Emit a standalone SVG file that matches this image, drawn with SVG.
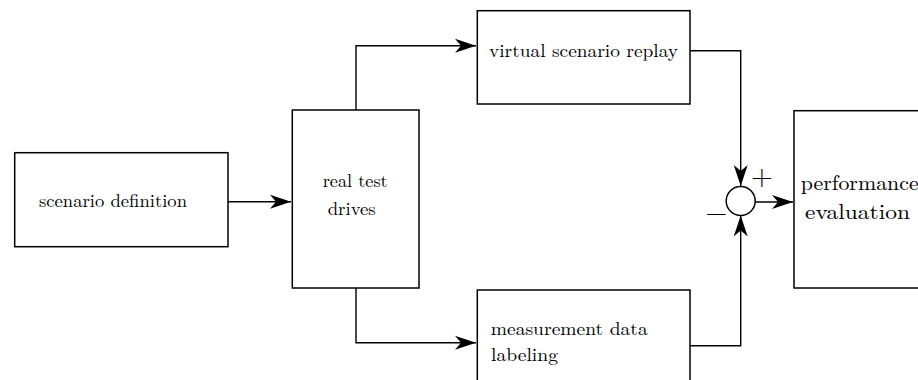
<svg xmlns="http://www.w3.org/2000/svg" width="918" height="380" viewBox="0 0 918 380">
<style>
.box{fill:#fff;stroke:#000;stroke-width:1.5}
.ln{fill:none;stroke:#000;stroke-width:1.4}
.t{font-size:18.5px;fill:#000}
.tb{font-size:21px;fill:#000}
.sg{font-size:28px;fill:#000}
</style>
<defs>
<marker id="ar" markerUnits="userSpaceOnUse" markerWidth="24" markerHeight="16" viewBox="-22 -8 24 16" refX="0" refY="0" orient="auto">
<path d="M0,0 L-21,-7 L-15,0 L-21,7 Z" fill="#000"/>
</marker>
</defs>
<rect width="918" height="380" fill="#fff"/>
<g id="connectors">
<path class="ln" d="M228,201.7 H291" marker-end="url(#ar)"/>
<path class="ln" d="M356,110 V45.7 H476" marker-end="url(#ar)"/>
<path class="ln" d="M356,288 V342.7 H476" marker-end="url(#ar)"/>
<path class="ln" d="M690,50.7 H740.7 V186" marker-end="url(#ar)"/>
<path class="ln" d="M690,345.7 H740.7 V215.5" marker-end="url(#ar)"/>
<path class="ln" d="M755,202 H793" marker-end="url(#ar)"/>
</g>
<g font-family="Latin Modern Roman, Liberation Serif, serif">
<g id="scenario-definition">
<rect class="box" x="14.7" y="152.7" width="213.3" height="94"/>
<text class="t" x="39" y="207" textLength="148" lengthAdjust="spacingAndGlyphs">scenario definition</text>
</g>
<g id="real-test-drives">
<rect class="box" x="292.3" y="110" width="126.7" height="178"/>
<text class="t" x="322.7" y="187" textLength="65" lengthAdjust="spacingAndGlyphs">real test</text>
<text class="t" x="327.7" y="215" textLength="48" lengthAdjust="spacingAndGlyphs">drives</text>
</g>
<g id="virtual-scenario-replay">
<rect class="box" x="477.3" y="10.7" width="212.7" height="93.3"/>
<text class="t" x="489" y="57" textLength="189" lengthAdjust="spacingAndGlyphs">virtual scenario replay</text>
</g>
<g id="measurement-data-labeling">
<rect class="box" x="477.3" y="290" width="212.7" height="100"/>
<text class="t" x="490.7" y="335" textLength="157" lengthAdjust="spacingAndGlyphs">measurement data</text>
<text class="t" x="491" y="361" textLength="67" lengthAdjust="spacingAndGlyphs">labeling</text>
</g>
<g id="sum">
<circle cx="740.7" cy="201" r="14.5" fill="#fff" stroke="#000" stroke-width="1.5"/>
<text class="sg" x="762" y="185" text-anchor="middle">+</text>
<text class="sg" x="716.5" y="221" text-anchor="middle">−</text>
</g>
<g id="performance-evaluation">
<rect class="box" x="794" y="110.7" width="140" height="177.3"/>
<text class="tb" x="800.7" y="190" textLength="118" lengthAdjust="spacingAndGlyphs">performance</text>
<text class="tb" x="805" y="219" textLength="105" lengthAdjust="spacingAndGlyphs">evaluation</text>
</g>
</g>
</svg>
